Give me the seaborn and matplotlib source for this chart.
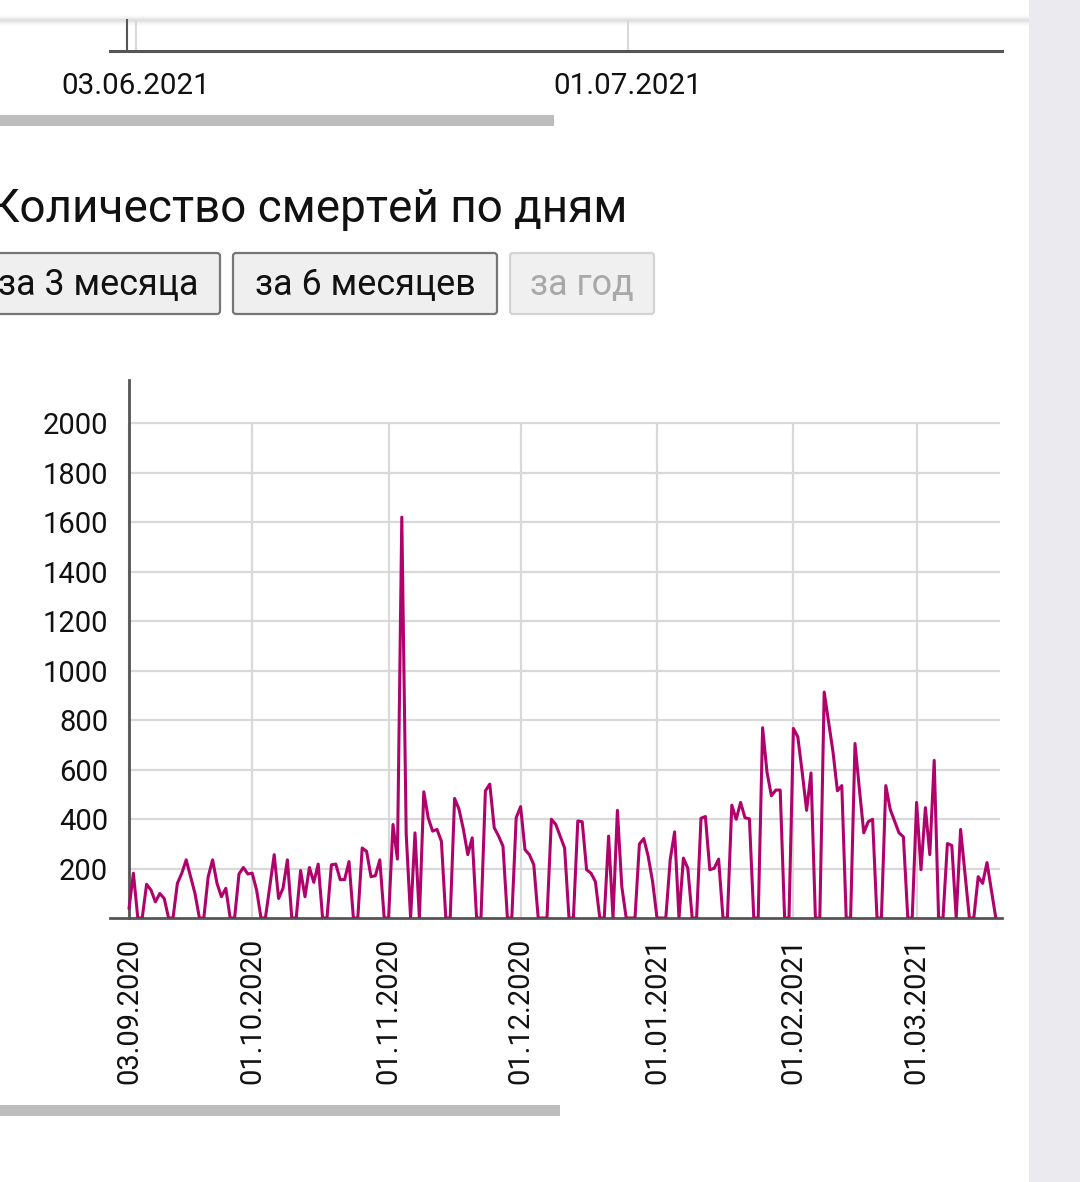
import numpy as np
import pandas as pd
import seaborn as sns
import matplotlib.pyplot as plt
import matplotlib.dates as mdates
from matplotlib.patches import Rectangle, FancyBboxPatch

# daily deaths, starting 03.09.2020
start_date = "2020-09-03"
deaths = [38, 181, 0, 0, 136, 113, 65, 99, 79, 0,
          0, 140, 181, 235, 167, 99, 0, 0, 167, 235,
          140, 86, 120, 0, 0, 178, 204, 178, 181, 113,
          0, 0, 127, 256, 79, 120, 235, 0, 0, 192,
          86, 204, 144, 218, 0, 0, 215, 218, 155, 155,
          228, 0, 0, 283, 269, 167, 171, 235, 0, 0,
          378, 238, 1620, 340, 0, 344, 0, 510, 405, 351,
          358, 310, 0, 0, 483, 440, 358, 256, 324, 0,
          0, 514, 541, 365, 331, 290, 0, 0, 405, 450,
          276, 256, 215, 0, 0, 0, 399, 378, 331, 283,
          0, 0, 392, 389, 195, 181, 147, 0, 0, 331,
          0, 435, 127, 0, 0, 0, 299, 321, 249, 147,
          0, 0, 0, 235, 348, 0, 242, 201, 0, 0,
          403, 410, 195, 201, 238, 0, 0, 456, 399, 467,
          405, 401, 0, 0, 769, 589, 494, 517, 517, 0,
          0, 766, 732, 589, 435, 586, 0, 0, 913, 793,
          671, 514, 535, 0, 0, 705, 521, 344, 389, 399,
          0, 0, 535, 439, 392, 344, 328, 0, 0, 467,
          195, 446, 256, 637, 0, 0, 301, 293, 0, 358,
          180, 0, 0, 167, 140, 224, 112, 0]

month_ticks = ["2020-09-03", "2020-10-01", "2020-11-01", "2020-12-01",
               "2021-01-01", "2021-02-01", "2021-03-01"]
y_ticks = [200, 400, 600, 800, 1000, 1200, 1400, 1600, 1800, 2000]

# remnant of the chart above (cut off by the screenshot)
top_ticks = ["2021-06-03", "2021-07-01"]

title = "Количество смертей по дням"
buttons = ["за 3 месяца", "за 6 месяцев", "за год"]

LINE = "#b0026a"
AXIS = "#555555"
GRID = "#d9d9d9"

sns.set_style("white")
plt.rcParams['font.family'] = ['Roboto', 'DejaVu Sans']

W, H = 1080, 1182
fig = plt.figure(figsize=(W / 100, H / 100), dpi=100)
fig.patch.set_facecolor("white")


def fy(py):
    return 1 - py / H


# page decorations drawn in pixel coords
deco = fig.add_axes([0, 0, 1, 1], zorder=0)
deco.set_xlim(0, W)
deco.set_ylim(H, 0)
deco.axis("off")

deco.add_patch(Rectangle((1029, 0), W - 1029, H, color="#eaeaef", lw=0))
for dy, a in zip(range(-4, 6), [0.01, 0.02, 0.04, 0.06, 0.08, 0.07, 0.05, 0.03, 0.02, 0.01]):
    deco.plot([0, 1029], [20 + dy, 20 + dy], color="black", alpha=a, lw=1.2,
              solid_capstyle="butt")

deco.add_patch(Rectangle((0, 115), 554, 11, color="#bdbdbd", lw=0))
deco.add_patch(Rectangle((0, 1105), 560, 11, color="#bdbdbd", lw=0))

deco.text(-10, 222, title, fontsize=33, color="#111111", ha="left", va="baseline")

boxes = [(-24, 220), (233, 497), (510, 654)]
for i, (label, (x0, x1)) in enumerate(zip(buttons, boxes)):
    disabled = i == 2
    deco.add_patch(FancyBboxPatch((x0, 253), x1 - x0, 61,
                                  boxstyle="round,pad=0,rounding_size=3",
                                  facecolor="#f0f0f0" if disabled else "#efefef",
                                  edgecolor="#d3d3d3" if disabled else "#767676",
                                  lw=1.6))
    deco.text((x0 + x1) / 2, 285, label, fontsize=25.8,
              color="#a8a8a8" if disabled else "#111111",
              ha="center", va="center")

# upper remnant axis
top_ax = fig.add_axes([110 / W, fy(51), (1002 - 110) / W, (51 - 20) / H], zorder=1)
top_ax.set_facecolor("none")
t0 = pd.Timestamp(top_ticks[0])
px_day_top = (628 - 136) / 28
top_ax.set_xlim(t0 - pd.Timedelta(days=26 / px_day_top), t0 + pd.Timedelta(days=866 / px_day_top))
top_ax.set_ylim(0, 1)
for t in pd.to_datetime(top_ticks):
    top_ax.axvline(t, color=GRID, lw=1.5, zorder=0)
top_ax.spines[["top", "right"]].set_visible(False)
top_ax.spines["bottom"].set_color(AXIS)
top_ax.spines["bottom"].set_linewidth(2.2)
top_ax.spines["left"].set_color(AXIS)
top_ax.spines["left"].set_linewidth(1.5)
top_ax.spines["left"].set_position(("data", mdates.date2num(t0 - pd.Timedelta(days=9 / px_day_top))))
top_ax.set_yticks([])
top_ax.set_xticks(pd.to_datetime(top_ticks))
top_ax.set_xticklabels([pd.Timestamp(t).strftime("%d.%m.%Y") for t in top_ticks])
top_ax.tick_params(axis="x", length=8, width=1.5, color=AXIS, labelsize=21.3,
                   labelcolor="#111111", pad=7)

# main chart
days = pd.date_range(start_date, periods=len(deaths), freq="D")
df = pd.DataFrame({"date": days, "deaths": deaths})

ax = fig.add_axes([110 / W, fy(918), (1002 - 110) / W, (918 - 380) / H], zorder=1)
ax.set_facecolor("none")
px_day = 4.40
d0 = days[0]
x_left = d0 - pd.Timedelta(days=19 / px_day)
x_right = d0 + pd.Timedelta(days=873 / px_day)
ax.set_xlim(x_left, x_right)
ax.set_ylim(0, 2174)

ax.hlines(y_ticks, d0, d0 + pd.Timedelta(days=871 / px_day), color=GRID, lw=1.6, zorder=0)
ax.vlines(pd.to_datetime(month_ticks), 0, 2000, color=GRID, lw=1.6, zorder=0)

sns.lineplot(data=df, x="date", y="deaths", color=LINE, linewidth=2.2, ax=ax, zorder=3)

ax.spines[["top", "right"]].set_visible(False)
for s in ["left", "bottom"]:
    ax.spines[s].set_color(AXIS)
    ax.spines[s].set_linewidth(2.0)
ax.spines["left"].set_position(("data", mdates.date2num(d0)))

ax.set_yticks(y_ticks)
ax.set_yticklabels([str(v) for v in y_ticks])
ax.set_xticks(pd.to_datetime(month_ticks))
ax.set_xticklabels([pd.Timestamp(t).strftime("%d.%m.%Y") for t in month_ticks], rotation=90)
ax.tick_params(axis="y", length=8, width=1.6, color=AXIS, labelsize=21,
               labelcolor="#111111", pad=7)
ax.tick_params(axis="x", length=9, width=1.6, color=AXIS, labelsize=21,
               labelcolor="#111111", pad=5)
ax.set_xlabel("")
ax.set_ylabel("")

fig.savefig("out.png", dpi=100)
